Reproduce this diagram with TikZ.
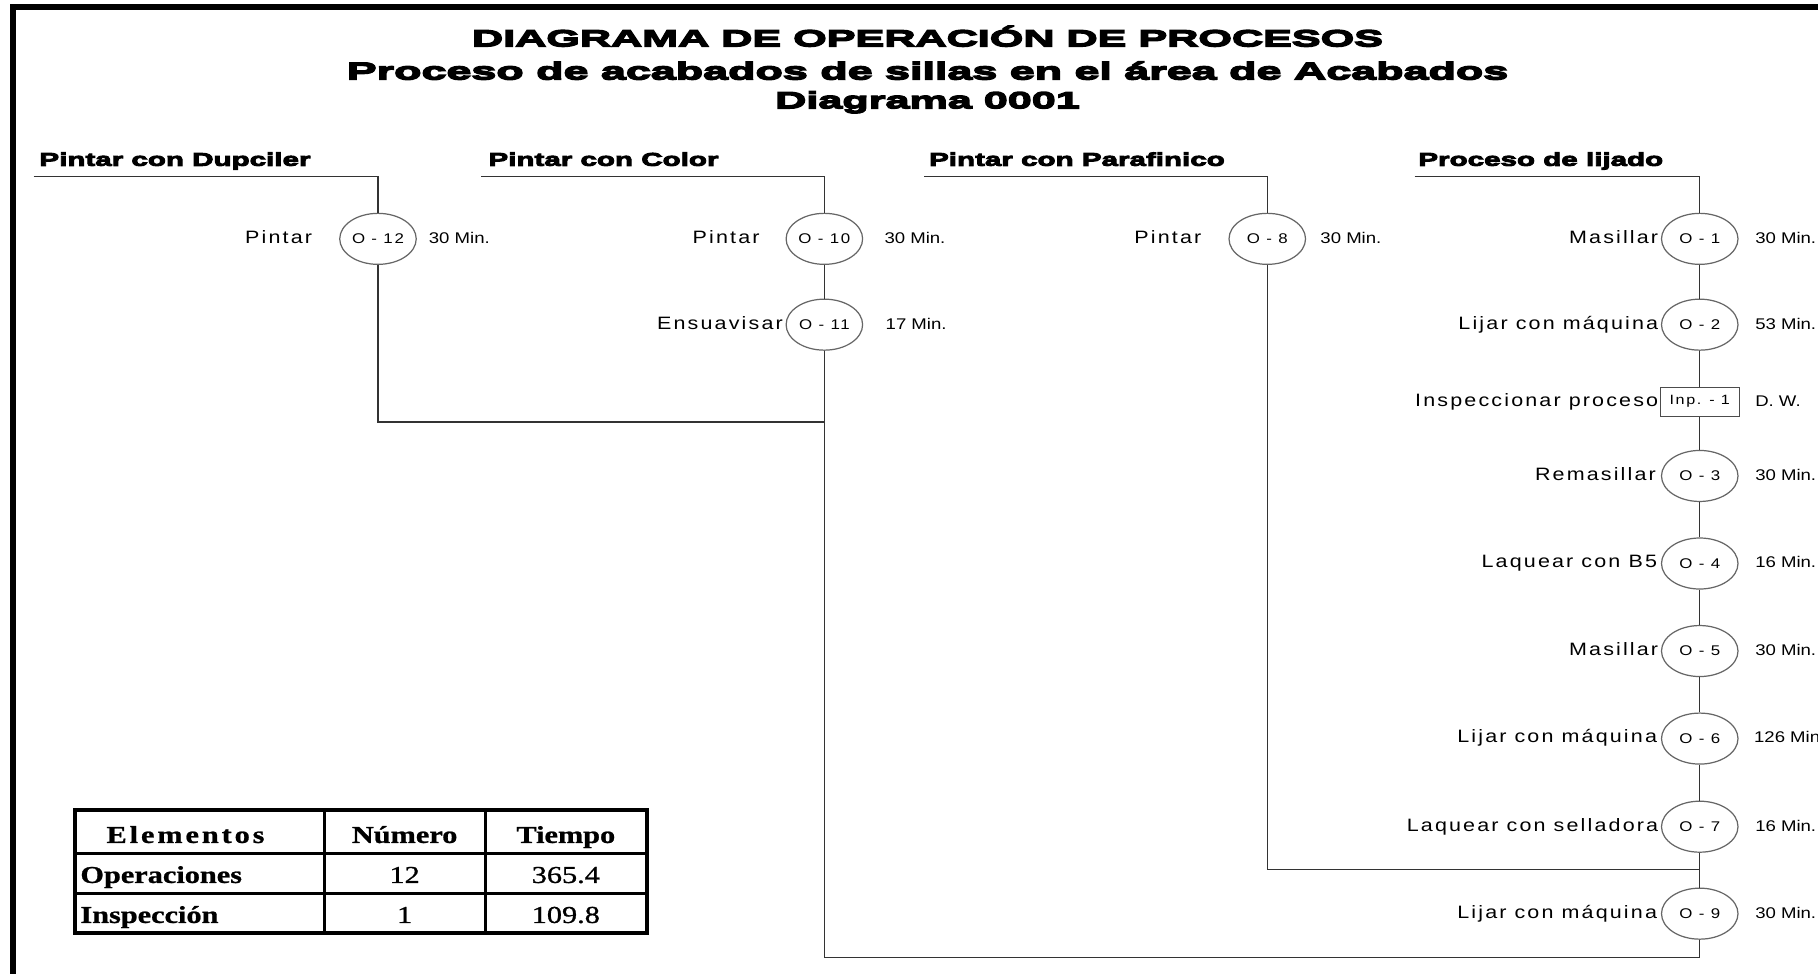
\documentclass[tikz,border=0pt]{standalone}
\usepackage{fontspec}
\usetikzlibrary{shapes.geometric}
\newfontfamily\ttlfont{Liberation Sans Bold}[FakeStretch=1.85,FakeBold=6]
\newfontfamily\hdrfont{Liberation Sans Bold}[FakeStretch=1.6,FakeBold=5]
\newfontfamily\lblfont{Liberation Sans}[FakeStretch=1.2,LetterSpace=12]
\newfontfamily\minfont{Liberation Sans}[FakeStretch=1.2]
\newfontfamily\tblfont{Liberation Serif}[FakeStretch=1.25,FakeBold=1]
\tikzset{
  ttl/.style={font=\ttlfont\fontsize{11.45}{13}\selectfont, anchor=base, inner sep=0},
  hdr/.style={font=\hdrfont\fontsize{9.07}{11}\selectfont, anchor=base west, inner sep=0},
  lbl/.style={font=\lblfont\fontsize{8.79}{10}\selectfont, anchor=mid east, inner sep=0},
  tim/.style={font=\minfont\fontsize{7.6}{9}\selectfont, anchor=mid west, inner sep=0},
  op/.style={ellipse, draw=black!60, line width=0.6pt, minimum width=1.32cm, minimum height=0.88cm, inner sep=0, font=\lblfont\fontsize{6.9}{8}\selectfont},
  insp/.style={rectangle, draw=black!70, line width=0.6pt, minimum width=1.36cm, minimum height=0.5cm, inner sep=0, font=\lblfont\fontsize{6.6}{8}\selectfont},
  conn/.style={draw=black!80, line width=0.7pt},
  tb/.style={font=\tblfont\fontsize{11.9}{13}\selectfont, anchor=base, inner sep=0},
  tbl/.style={tb, anchor=base west},
}
\begin{document}
\begin{tikzpicture}[x=0.02cm,y=-0.02cm]
\useasboundingbox (0,0) rectangle (1568,840);
\clip (0,0) rectangle (1568,840);
\fill[white] (0,0) rectangle (1568,840);
% frame
\draw[line width=2.95pt] (11.2,900) -- (11.2,6) -- (1600,6);
% titles
\node[ttl] (t1) at (800,40) {DIAGRAMA DE OPERACIÓN DE PROCESOS};
\node[ttl, font=\ttlfont\fontsize{11.9}{13}\selectfont] (t2) at (800,68.5) {Proceso de acabados de sillas en el área de Acabados};
\node[ttl] (t3) at (800,93.4) {Diagrama 0001};
% headers
\node[hdr] (hd1) at (33.7,143) {Pintar con Dupciler};
\node[hdr] (hd2) at (421,143) {Pintar con Color};
\node[hdr] (hd3) at (801,143) {Pintar con Parafinico};
\node[hdr] (hd4) at (1223,143) {Proceso de lijado};
% operations
\node[op] (o12) at (326,206) {O - 12};
\node[op] (o10) at (711,206) {O - 10};
\node[op] (o11) at (711,280) {O - 11};
\node[op] (o8) at (1093,206) {O - 8};
\node[op] (o1) at (1466,206) {O - 1};
\node[op] (o2) at (1466,280) {O - 2};
\node[insp] (inp) at (1466,346.5) {Inp. - 1};
\node[op] (o3) at (1466,410.5) {O - 3};
\node[op] (o4) at (1466,486) {O - 4};
\node[op] (o5) at (1466,561.5) {O - 5};
\node[op] (o6) at (1466,637) {O - 6};
\node[op] (o7) at (1466,713) {O - 7};
\node[op] (o9) at (1466,788) {O - 9};
% left labels
\node[lbl] (l12) at ([xshift=-0.46cm]o12.west) {Pintar};
\node[lbl] (l10) at ([xshift=-0.44cm]o10.west) {Pintar};
\node[lbl] (l11) at ([xshift=-0.04cm]o11.west) {Ensuavisar};
\node[lbl] (l8) at ([xshift=-0.46cm]o8.west) {Pintar};
\node[lbl] (l1) at ([xshift=-0.04cm]o1.west) {Masillar};
\node[lbl] (l2) at ([xshift=-0.04cm]o2.west) {Lijar con máquina};
\node[lbl] (li) at ([xshift=-0.02cm]inp.west) {Inspeccionar proceso};
\node[lbl] (l3) at ([xshift=-0.08cm]o3.west) {Remasillar};
\node[lbl] (l4) at ([xshift=-0.06cm]o4.west) {Laquear con B5};
\node[lbl] (l5) at ([xshift=-0.04cm]o5.west) {Masillar};
\node[lbl] (l6) at ([xshift=-0.06cm]o6.west) {Lijar con máquina};
\node[lbl] (l7) at ([xshift=-0.04cm]o7.west) {Laquear con selladora};
\node[lbl] (l9) at ([xshift=-0.06cm]o9.west) {Lijar con máquina};
% times
\node[tim] (m12) at ([xshift=0.2cm]o12.east) {30 Min.};
\node[tim] (m10) at ([xshift=0.36cm]o10.east) {30 Min.};
\node[tim] (m11) at ([xshift=0.38cm]o11.east) {17 Min.};
\node[tim] (m8) at ([xshift=0.24cm]o8.east) {30 Min.};
\node[tim] (m1) at ([xshift=0.28cm]o1.east) {30 Min.};
\node[tim] (m2) at ([xshift=0.28cm]o2.east) {53 Min.};
\node[tim] (mi) at ([xshift=0.26cm]inp.east) {D. W.};
\node[tim] (m3) at ([xshift=0.28cm]o3.east) {30 Min.};
\node[tim] (m4) at ([xshift=0.28cm]o4.east) {16 Min.};
\node[tim] (m5) at ([xshift=0.28cm]o5.east) {30 Min.};
\node[tim] (m6) at ([xshift=0.26cm]o6.east) {126 Min.};
\node[tim] (m7) at ([xshift=0.28cm]o7.east) {16 Min.};
\node[tim] (m9) at ([xshift=0.28cm]o9.east) {30 Min.};
% connectors
\coordinate (h1a) at (29,152); \coordinate (h1b) at (326,152);
\coordinate (h2a) at (415,152); \coordinate (h2b) at (711,152);
\coordinate (h3a) at (797,152); \coordinate (h3b) at (1093,152);
\coordinate (h4a) at (1220,152); \coordinate (h4b) at (1466,152);
\coordinate (j1) at (326,364); \coordinate (j2) at (711,364);
\coordinate (c1) at (1093,750); \coordinate (c2) at (1466,750);
\coordinate (b1) at (711,826); \coordinate (b2) at (1466,826);
\draw[conn] (h1a) -- (h1b) -- (o12.north);
\draw[conn] (o12.south) -- (j1) -- (j2);
\draw[conn] (h2a) -- (h2b) -- (o10.north);
\draw[conn] (o10) -- (o11);
\draw[conn] (o11.south) -- (b1) -- (b2) -- (o9.south);
\draw[conn] (h3a) -- (h3b) -- (o8.north);
\draw[conn] (o8.south) -- (c1) -- (c2);
\draw[conn] (h4a) -- (h4b) -- (o1.north);
\draw[conn] (o1) -- (o2);
\draw[conn] (o2) -- (inp);
\draw[conn] (inp) -- (o3);
\draw[conn] (o3) -- (o4);
\draw[conn] (o4) -- (o5);
\draw[conn] (o5) -- (o6);
\draw[conn] (o6) -- (o7);
\draw[conn] (o7) -- (o9);
% table
\draw[line width=1.6pt] (65,736) -- (558,736) (65,770.5) -- (558,770.5)
  (280,698.6) -- (280,804.5) (419,698.6) -- (419,804.5);
\draw[line width=2pt] (65,698.6) rectangle (558,804.5);
\node[tb] (te) at (160,727) {\bfseries\addfontfeatures{LetterSpace=12}Elementos};
\node[tb] (tn) at (349,727) {\bfseries Número};
\node[tb] (tt) at (488,727) {\bfseries Tiempo};
\node[tbl] (top) at (69,761.5) {\bfseries Operaciones};
\node[tbl] (tin) at (69,796) {\bfseries Inspección};
\node[tb] (n1) at (349,761.5) {12};
\node[tb] (n2) at (488,761.5) {365.4};
\node[tb] (n3) at (349,796) {1};
\node[tb] (n4) at (488,796) {109.8};
\end{tikzpicture}
\end{document}
